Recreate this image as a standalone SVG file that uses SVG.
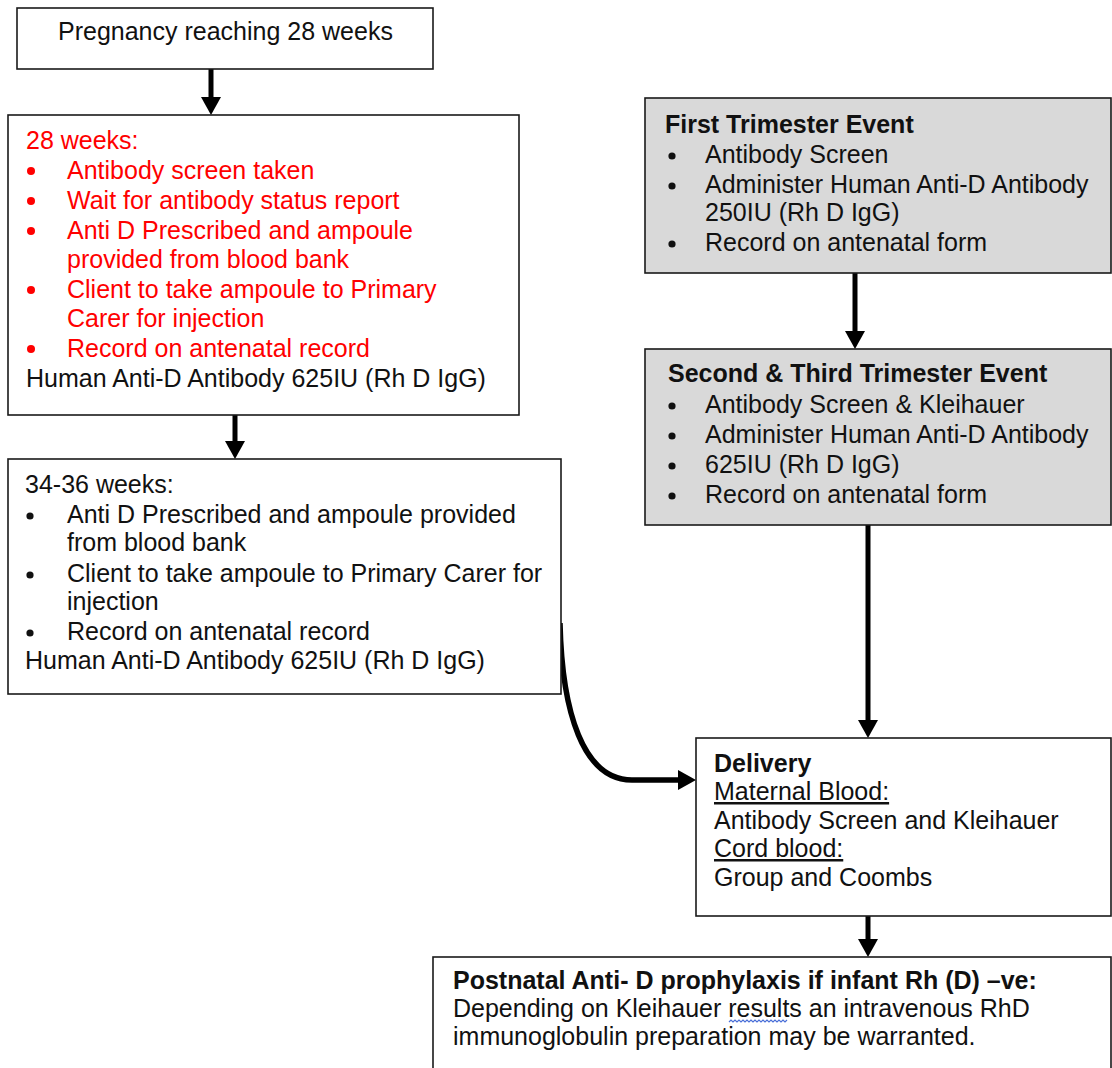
<svg xmlns="http://www.w3.org/2000/svg" width="1112" height="1068" viewBox="0 0 1112 1068">
<style>
.box{fill:#fff;stroke:#1a1a1a;stroke-width:1.6}
.gray{fill:#d9d9d9;stroke:#1a1a1a;stroke-width:1.6}
text{font-family:"Liberation Sans",Arial,sans-serif;font-size:25px;fill:#111}
.red{fill:#ff0000}
.b{font-weight:bold}
.u{text-decoration:underline}
.conn{fill:none;stroke:#000;stroke-width:5}
.dotr{fill:#ff0000}
.dot{fill:#111}
</style>
<defs>
<marker id="ah" markerWidth="20" markerHeight="22" refX="0" refY="11" orient="auto" markerUnits="userSpaceOnUse">
<path d="M0,1 L18,11 L0,21 z" fill="#000"/>
</marker>
</defs>
<rect width="1112" height="1068" fill="#fff"/>

<g id="connectors">
<path class="conn" d="M211,69 V97" marker-end="url(#ah)"/>
<path class="conn" d="M235,415 V441" marker-end="url(#ah)"/>
<path class="conn" d="M855,273 V331" marker-end="url(#ah)"/>
<path class="conn" d="M868,525 V720" marker-end="url(#ah)"/>
<path class="conn" d="M868,916 V939" marker-end="url(#ah)"/>
<path class="conn" style="stroke-width:5.5" d="M560,623 C562,712 583,780 632,780 H678" marker-end="url(#ah)"/>
</g>

<g id="n-start">
<rect class="box" x="17" y="8" width="416" height="61"/>
<text x="58" y="40">Pregnancy reaching 28 weeks</text>
</g>

<g id="n-28weeks">
<rect class="box" x="8" y="115" width="511" height="300"/>
<text class="red" x="26" y="149">28 weeks:</text>
<circle class="dotr" cx="31" cy="171" r="4"/>
<text class="red" x="67" y="179">Antibody screen taken</text>
<circle class="dotr" cx="31" cy="201" r="4"/>
<text class="red" x="67" y="209">Wait for antibody status report</text>
<circle class="dotr" cx="31" cy="231" r="4"/>
<text class="red" x="67" y="239">Anti D Prescribed and ampoule</text>
<text class="red" x="67" y="268">provided from blood bank</text>
<circle class="dotr" cx="31" cy="290" r="4"/>
<text class="red" x="67" y="298">Client to take ampoule to Primary</text>
<text class="red" x="67" y="327">Carer for injection</text>
<circle class="dotr" cx="31" cy="349" r="4"/>
<text class="red" x="67" y="357">Record on antenatal record</text>
<text x="26" y="387">Human Anti-D Antibody 625IU (Rh D IgG)</text>
</g>

<g id="n-34weeks">
<rect class="box" x="8" y="459" width="553" height="235"/>
<text x="25" y="493">34-36 weeks:</text>
<circle class="dot" cx="30" cy="516" r="3.6"/>
<text x="67" y="523">Anti D Prescribed and ampoule provided</text>
<text x="67" y="551">from blood bank</text>
<circle class="dot" cx="30" cy="575" r="3.6"/>
<text x="67" y="582">Client to take ampoule to Primary Carer for</text>
<text x="67" y="610">injection</text>
<circle class="dot" cx="30" cy="633" r="3.6"/>
<text x="67" y="640">Record on antenatal record</text>
<text x="25" y="669">Human Anti-D Antibody 625IU (Rh D IgG)</text>
</g>

<g id="n-first">
<rect class="gray" x="645" y="98" width="466" height="175"/>
<text class="b" x="665" y="133">First Trimester Event</text>
<circle class="dot" cx="672" cy="156" r="3.6"/>
<text x="705" y="163">Antibody Screen</text>
<circle class="dot" cx="672" cy="186" r="3.6"/>
<text x="705" y="193">Administer Human Anti-D Antibody</text>
<text x="705" y="221">250IU (Rh D IgG)</text>
<circle class="dot" cx="672" cy="244" r="3.6"/>
<text x="705" y="251">Record on antenatal form</text>
</g>

<g id="n-second">
<rect class="gray" x="645" y="349" width="466" height="176"/>
<text class="b" x="668" y="382">Second &amp; Third Trimester Event</text>
<circle class="dot" cx="672" cy="406" r="3.6"/>
<text x="705" y="413">Antibody Screen &amp; Kleihauer</text>
<circle class="dot" cx="672" cy="436" r="3.6"/>
<text x="705" y="443">Administer Human Anti-D Antibody</text>
<circle class="dot" cx="672" cy="466" r="3.6"/>
<text x="705" y="473">625IU (Rh D IgG)</text>
<circle class="dot" cx="672" cy="496" r="3.6"/>
<text x="705" y="503">Record on antenatal form</text>
</g>

<g id="n-delivery">
<rect class="box" x="696" y="738" width="415" height="178"/>
<text class="b" x="714" y="772">Delivery</text>
<text class="u" x="714" y="800">Maternal Blood:</text>
<text x="714" y="829">Antibody Screen and Kleihauer</text>
<text class="u" x="714" y="857">Cord blood:</text>
<text x="714" y="886">Group and Coombs</text>
</g>

<g id="n-postnatal">
<rect class="box" x="433" y="957" width="678" height="120"/>
<text class="b" x="453" y="989">Postnatal Anti- D prophylaxis if infant Rh (D) –ve:</text>
<text x="453" y="1017">Depending on Kleihauer results an intravenous RhD</text>
<text x="453" y="1045">immunoglobulin preparation may be warranted.</text>
<path d="M729,1022 l2,-2 l2,2 l2,-2 l2,2 l2,-2 l2,2 l2,-2 l2,2 l2,-2 l2,2 l2,-2 l2,2 l2,-2 l2,2 l2,-2 l2,2 l2,-2 l2,2 l2,-2 l2,2 l2,-2 l2,2 l2,-2 l2,2 l2,-2 l2,2 l2,-2 l2,2 l2,-2" fill="none" stroke="#4a6fd8" stroke-width="1.2"/>
</g>
</svg>
